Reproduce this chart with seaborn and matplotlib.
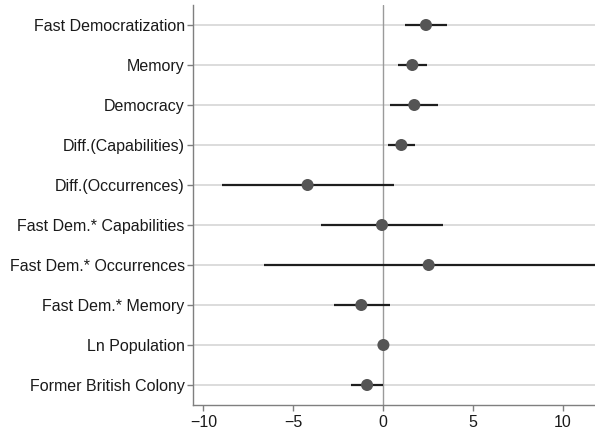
import numpy as np
import pandas as pd
import matplotlib
matplotlib.use("Agg")
import matplotlib.pyplot as plt
import seaborn as sns

variables = ["Fast Democratization", "Memory", "Democracy", "Diff.(Capabilities)",
             "Diff.(Occurrences)", "Fast Dem.* Capabilities", "Fast Dem.* Occurrences",
             "Fast Dem.* Memory", "Ln Population", "Former British Colony"]
coef = [2.39, 1.63, 1.74, 1.02, -4.20, -0.06, 2.54, -1.21, 0.02, -0.89]
ci_low = [1.20, 0.81, 0.41, 0.30, -8.95, -3.44, -6.61, -2.75, -0.03, -1.80]
ci_high = [3.56, 2.47, 3.06, 1.78, 0.59, 3.34, 12.5, 0.37, 0.07, -0.02]
xticks = [-10, -5, 0, 5, 10]

sns.set_style("ticks")
plt.rcParams['font.family'] = ['Liberation Sans', 'DejaVu Sans']

df = pd.DataFrame({"var": variables, "coef": coef, "lo": ci_low, "hi": ci_high})
df["pos"] = np.arange(len(df))

fig = plt.figure(figsize=(5.95, 4.34), dpi=100)
ax = fig.add_axes([193/595, 1 - 405/434, 1 - 193/595, 400/434])

for p in df["pos"]:
    ax.axhline(p, color="#d9d9d9", lw=1.3, zorder=0)
ax.axvline(0, color="#9a9a9a", lw=1.0, zorder=1)
ax.hlines(df["pos"], df["lo"], df["hi"], color="#1e1e1e", lw=1.6, zorder=2)
sns.scatterplot(data=df, x="coef", y="pos", ax=ax, color="#555555", s=75,
                edgecolor="none", zorder=3, legend=False)

ax.set_xlim(-10.58, 11.8)
ax.set_ylim(len(df) - 0.5, -0.5)
ax.set_yticks(df["pos"], df["var"])
ax.set_xticks(xticks, [f"\u2212{abs(t)}" if t < 0 else str(t) for t in xticks])
ax.set_xlabel("")
ax.set_ylabel("")
for s in ["top", "right"]:
    ax.spines[s].set_visible(False)
for s in ["left", "bottom"]:
    ax.spines[s].set_color("#7f7f7f")
    ax.spines[s].set_linewidth(1.0)
ax.tick_params(axis="both", colors="#7f7f7f", labelcolor="#1a1a1a",
               labelsize=11.5, length=4, width=1.0)
ax.tick_params(axis="y", pad=2)

fig.savefig("out.png", dpi=100)
